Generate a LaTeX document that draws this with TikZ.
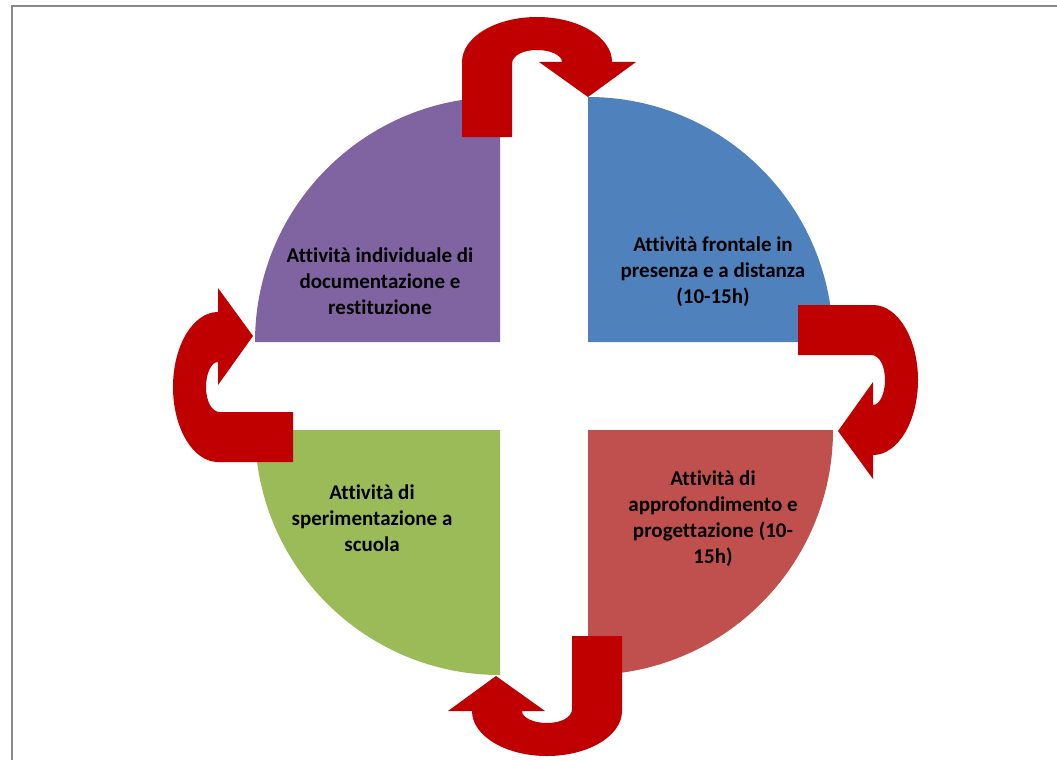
\documentclass[tikz,border=0pt]{standalone}
\usepackage{fontspec}
\setmainfont{Carlito}[Ligatures={NoCommon}]
\definecolor{quadpurple}{RGB}{128,100,162}
\definecolor{quadblue}{RGB}{79,129,189}
\definecolor{quadred}{RGB}{192,80,77}
\definecolor{quadgreen}{RGB}{155,187,89}
\definecolor{turnred}{RGB}{192,0,0}
\definecolor{framegray}{RGB}{137,137,137}
\tikzset{
  lbl/.style={align=center,font=\fontsize{21}{26}\selectfont\bfseries,text=black,inner sep=0pt},
  uturn/.pic={
    \fill[turnred] (-75,75) -- (-75,0) .. controls (-75,-24.85) and (-41.4,-45) .. (0,-45)
      .. controls (41.4,-45) and (75,-24.85) .. (75,0) -- (99,0) -- (51,35) -- (2,0) -- (25,0)
      .. controls (25,-6.6) and (13.8,-12) .. (0,-12) .. controls (-13.8,-12) and (-25,-6.6) .. (-25,2)
      -- (-25,75) -- cycle;
  }
}
\begin{document}
\begin{tikzpicture}[x=1pt,y=-1pt]
\useasboundingbox (0,0) rectangle (1057,760);
\fill[white] (0,0) rectangle (1057,760);
\draw[framegray,line width=2pt] (12,760) -- (12,6) -- (1057,6);
% quadrants
\fill[quadpurple] (500,342) -- (255,342) arc[start angle=180,end angle=90,radius=245pt] -- cycle;
\fill[quadblue] (588,342) -- (588,97) arc[start angle=90,end angle=0,radius=245pt] -- cycle;
\fill[quadred] (588,430) -- (833,430) arc[start angle=0,end angle=-90,radius=245pt] -- cycle;
\fill[quadgreen] (500,430) -- (500,675) arc[start angle=270,end angle=180,radius=245pt] -- cycle;
% u-turn arrows
\pic at (537,62) {uturn};
\pic[rotate=-90] at (873,380) {uturn};
\pic[rotate=180] at (547,711) {uturn};
\pic[rotate=90] at (218,387) {uturn};
% labels
\node[lbl] (indiv) at (380,281) {Attività individuale di\\documentazione e\\restituzione};
\node[lbl] (frontal) at (713,272) {Attività frontale in\\presenza e a distanza\\(10-15h)};
\node[lbl] (approf) at (713,519) {Attività di\\approfondimento e\\progettazione (10-\\15h)};
\node[lbl] (speriment) at (372,518) {Attività di\\sperimentazione a\\scuola};
\end{tikzpicture}
\end{document}
